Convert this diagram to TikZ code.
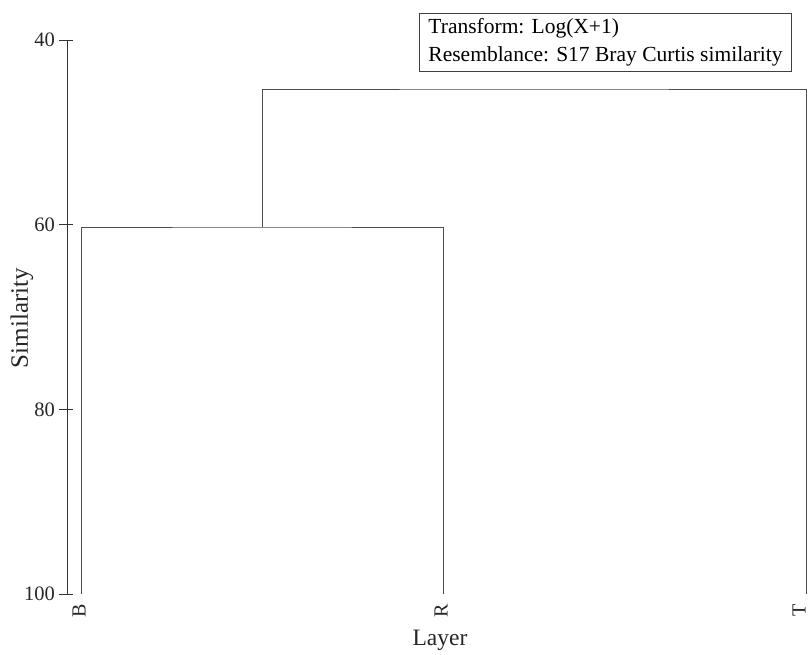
\documentclass[tikz,border=0pt]{standalone}
\usepackage{fontspec}
\setmainfont{Liberation Serif}
\usetikzlibrary{positioning}
\tikzstyle{branch}=[draw=black!70,line width=0.9pt]
\tikzstyle{axisline}=[draw=black!80,line width=0.9pt]
\tikzstyle{ticklabel}=[anchor=east,inner sep=0pt,text=black!85,font=\fontsize{20.5}{24}\selectfont]
\tikzstyle{leaflabel}=[rotate=90,anchor=east,inner sep=0pt,text=black!85,font=\fontsize{20}{24}\selectfont]
\tikzstyle{axistitle}=[inner sep=0pt,text=black!85,font=\fontsize{23.5}{28}\selectfont]
\tikzstyle{legend}=[draw=black!75,line width=0.8pt,align=left,inner xsep=9pt,inner ysep=5pt,font=\fontsize{21.5}{28}\selectfont]

\begin{document}
\begin{tikzpicture}[x=1pt,y=-1pt]
    \useasboundingbox (0,0) rectangle (809,654);

    % Achse
    \draw[axisline] (67,40) -- (67,594);
    \foreach \s/\yy in {40/40,60/224.7,80/409.3,100/594} {
        \draw[axisline] (59,\yy) -- (73,\yy);
        \node[ticklabel] (tick\s) at (55,\yy) {\s};
    }
    \node[axistitle, rotate=90, font=\fontsize{25}{30}\selectfont] (ylab) at (22,318) {Similarity};
    \node[axistitle] (xlab) at (440,640) {Layer};

    % Blaetter und Verzweigungen
    \coordinate (B) at (81,594);
    \coordinate (R) at (443,594);
    \coordinate (T) at (806,594);
    \coordinate (BR) at (262,227);
    \coordinate (root) at (534,89);

    \draw[branch] (B) |- (BR) -| (R);
    \draw[branch] (BR) |- (root) -| (T);

    \node[leaflabel] (labB) at (79,604) {B};
    \node[leaflabel] (labR) at (441,604) {R};
    \node[leaflabel] (labT) at (799,604) {T};

    % Legende
    \node[legend, anchor=north east] (info) at (792,13)
        {Transform: Log(X+1)\\Resemblance: S17 Bray Curtis similarity};

\end{tikzpicture}
\end{document}
